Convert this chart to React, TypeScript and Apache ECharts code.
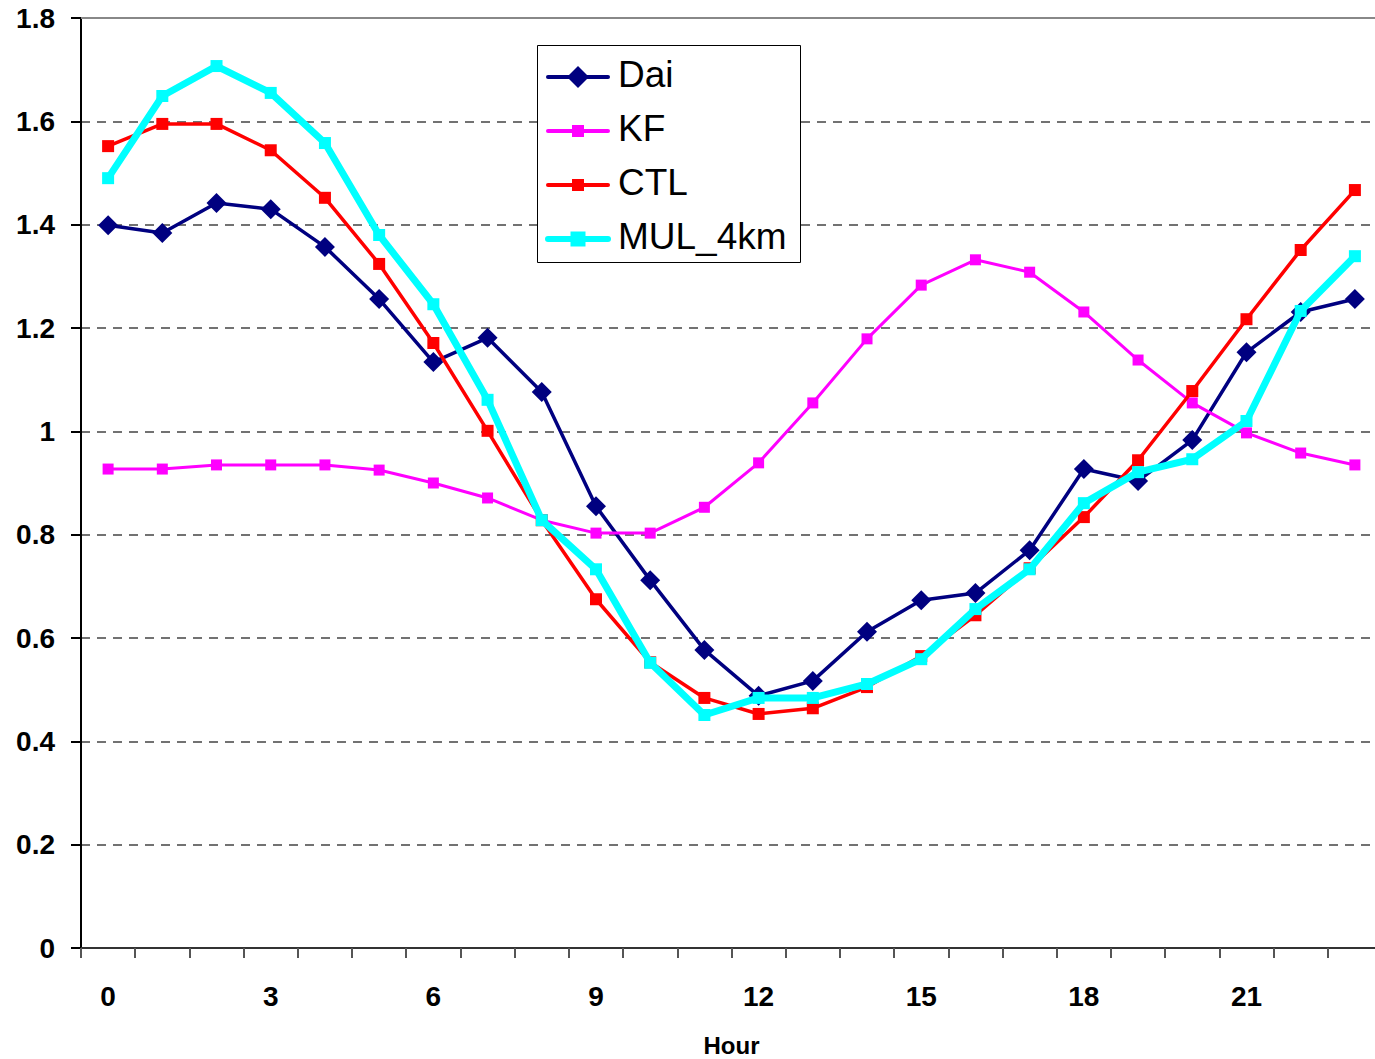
import React, { useEffect, useRef } from "react";
import * as echarts from "echarts";

const hours = Array.from({ length: 24 }, (_, i) => String(i));

const dai = [1.399, 1.384, 1.442, 1.43, 1.357, 1.256, 1.134, 1.181, 1.076, 0.855, 0.712, 0.577, 0.488, 0.517, 0.612, 0.673, 0.687, 0.77, 0.927, 0.904, 0.983, 1.153, 1.231, 1.256];
const kf = [0.927, 0.927, 0.935, 0.935, 0.935, 0.925, 0.9, 0.871, 0.828, 0.803, 0.803, 0.853, 0.939, 1.055, 1.179, 1.283, 1.332, 1.308, 1.231, 1.138, 1.055, 0.997, 0.958, 0.935];
const ctl = [1.552, 1.595, 1.595, 1.544, 1.452, 1.324, 1.171, 1.001, 0.828, 0.675, 0.553, 0.484, 0.453, 0.464, 0.505, 0.565, 0.644, 0.735, 0.834, 0.944, 1.078, 1.217, 1.351, 1.467];
const mul4km = [1.49, 1.649, 1.707, 1.655, 1.558, 1.38, 1.246, 1.061, 0.828, 0.733, 0.552, 0.451, 0.484, 0.484, 0.511, 0.559, 0.656, 0.733, 0.861, 0.921, 0.946, 1.02, 1.233, 1.339];

const seriesNames = ["Dai", "KF", "CTL", "MUL_4km"];
const seriesColors = ["#000080", "#FF00FF", "#FF0000", "#00FFFF"];
const seriesData = [dai, kf, ctl, mul4km];
const seriesSymbols = ["diamond", "rect", "rect", "rect"];
const seriesSymbolSizes = [20, 11, 12, 12];
const seriesLineWidths = [3.5, 3, 3.5, 7];

const FONT = "Liberation Sans, Arial, sans-serif";

// Custom legend (Excel-like): box, line swatch with marker, label
const LEG = { x: 537, y: 45, w: 263, h: 217, lineX1: 548, lineX2: 608, rowY0: 77, rowGap: 54, textX: 618 };
const legendMarkerSizes = [22, 12, 12, 15];
const legendLineWidths = [4, 4, 4, 6];

function legendGraphics() {
  const children: any[] = [
    {
      type: "rect",
      z: 100,
      shape: { x: LEG.x + 0.5, y: LEG.y + 0.5, width: LEG.w, height: LEG.h },
      style: { fill: "#fff", stroke: "#000", lineWidth: 1 },
    },
  ];
  seriesNames.forEach((name, i) => {
    const cy = LEG.rowY0 + i * LEG.rowGap;
    const cx = (LEG.lineX1 + LEG.lineX2) / 2;
    const c = seriesColors[i];
    children.push({
      type: "line",
      z: 101,
      shape: { x1: LEG.lineX1, y1: cy, x2: LEG.lineX2, y2: cy },
      style: { stroke: c, lineWidth: legendLineWidths[i], lineCap: "round" },
    });
    const s = legendMarkerSizes[i];
    if (seriesSymbols[i] === "diamond") {
      children.push({
        type: "polygon",
        z: 102,
        shape: { points: [[cx, cy - s / 2], [cx + s / 2, cy], [cx, cy + s / 2], [cx - s / 2, cy]] },
        style: { fill: c },
      });
    } else {
      children.push({
        type: "rect",
        z: 102,
        shape: { x: cx - s / 2, y: cy - s / 2, width: s, height: s },
        style: { fill: c },
      });
    }
    children.push({
      type: "text",
      z: 102,
      x: LEG.textX,
      y: cy - 3,
      style: { text: name, fontSize: 37, fontFamily: FONT, fill: "#000", verticalAlign: "middle" },
    });
  });
  return children;
}

export default function App() {
  const ref = useRef<HTMLDivElement>(null);
  useEffect(() => {
    if (!ref.current) return;
    const chart = echarts.init(ref.current, undefined, { renderer: "svg" });
    chart.setOption({
      animation: false,
      backgroundColor: "#ffffff",
      textStyle: { fontFamily: FONT },
      grid: { left: 81, top: 18, bottom: 111, width: 1301, containLabel: false, outerBoundsMode: "none" },
      graphic: legendGraphics(),
      xAxis: {
        type: "category",
        data: hours,
        boundaryGap: true,
        name: "Hour",
        nameLocation: "middle",
        nameGap: 85,
        nameTextStyle: { fontSize: 24, fontWeight: "bold", color: "#000", fontFamily: FONT },
        axisLine: { lineStyle: { color: "#333", width: 2 } },
        axisTick: { show: true, interval: 0, length: 10, lineStyle: { color: "#555", width: 2 } },
        axisLabel: { interval: 2, margin: 34, fontSize: 28, fontWeight: "bold", color: "#000", fontFamily: FONT },
        splitLine: { show: false },
      },
      yAxis: {
        type: "value",
        min: 0,
        max: 1.8,
        interval: 0.2,
        axisLine: { show: true, lineStyle: { color: "#000", width: 2 } },
        axisTick: { show: true, length: 10, lineStyle: { color: "#000", width: 2 } },
        axisLabel: { margin: 26, fontSize: 28, fontWeight: "bold", color: "#000", fontFamily: FONT },
        splitLine: { show: true, lineStyle: { color: "#444", width: 1.5, type: [9, 7] } },
      },
      series: seriesNames.map((name, i) => ({
        name,
        type: "line",
        data: seriesData[i],
        symbol: seriesSymbols[i],
        symbolSize: seriesSymbolSizes[i],
        itemStyle: { color: seriesColors[i] },
        lineStyle: { color: seriesColors[i], width: seriesLineWidths[i] },
        z: 2 + i,
        ...(i === 0
          ? {
              markLine: {
                silent: true,
                symbol: "none",
                label: { show: false },
                lineStyle: { color: "#888", width: 2, type: "solid" },
                data: [{ yAxis: 1.8 }],
              },
            }
          : {}),
      })),
    });
    return () => chart.dispose();
  }, []);
  return (
    <div style={{ position: "absolute", left: 0, top: 0, width: 1375, height: 1059, overflow: "hidden" }}>
      <div ref={ref} style={{ width: 1375, height: 1059 }} />
    </div>
  );
}
